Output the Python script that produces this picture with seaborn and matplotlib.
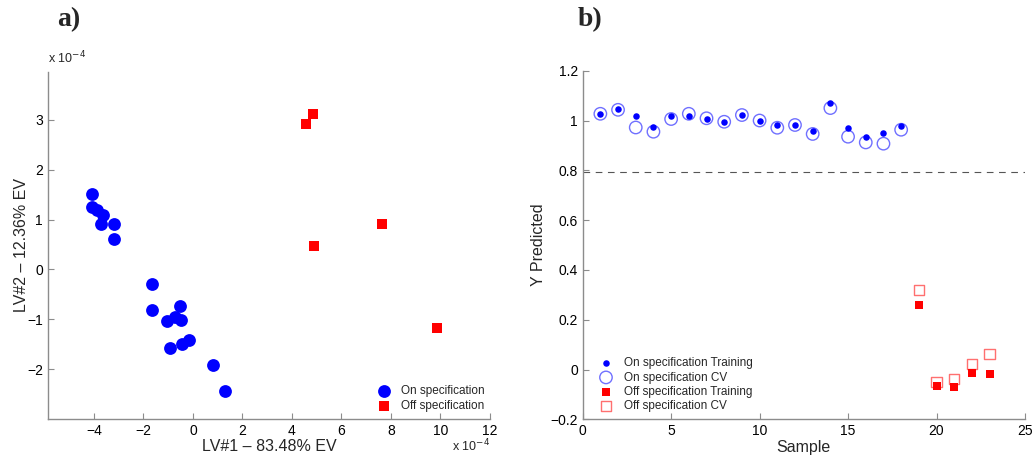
import numpy as np
import pandas as pd
import matplotlib
matplotlib.use('Agg')
import matplotlib.pyplot as plt
import seaborn as sns

# panel a: scores, in units of 1e-4
lv1_on = [-4.10, -4.08, -3.87, -3.64, -3.70, -3.21, -3.21, -1.66, -1.66, -1.06,
          -0.74, -0.54, -0.47, -0.16, -0.46, -0.92, 0.79, 1.29]
lv2_on = [1.52, 1.25, 1.20, 1.10, 0.92, 0.92, 0.60, -0.29, -0.81, -1.03,
          -0.95, -0.74, -1.02, -1.41, -1.50, -1.57, -1.91, -2.44]
lv1_off = [4.58, 4.85, 7.65, 4.88, 9.85]
lv2_off = [2.91, 3.11, 0.92, 0.47, -1.18]

# panel b: predictions per sample
samples_on = list(range(1, 19))
samples_off = list(range(19, 24))
on_train = [1.027, 1.046, 1.017, 0.974, 1.017, 1.019, 1.007, 0.993, 1.021, 0.999,
            0.982, 0.982, 0.959, 1.070, 0.968, 0.932, 0.948, 0.979]
on_cv = [1.027, 1.043, 0.972, 0.955, 1.006, 1.027, 1.009, 0.995, 1.022, 1.000,
         0.971, 0.982, 0.946, 1.050, 0.935, 0.912, 0.907, 0.963]
off_train = [0.258, -0.065, -0.070, -0.014, -0.018]
off_cv = [0.320, -0.049, -0.037, 0.021, 0.062]
threshold = 0.792

sns.set_style('white')
plt.rcParams['font.family'] = ['Liberation Sans', 'DejaVu Sans']

spine_col = '#8c8c8c'
blue = '#0000ff'
red = '#ff0000'


def matlab_axes(ax):
    for side in ['top', 'right']:
        ax.spines[side].set_visible(False)
    for side in ['left', 'bottom']:
        ax.spines[side].set_color(spine_col)
        ax.spines[side].set_linewidth(1.0)
    ax.tick_params(direction='in', length=4, width=0.8, color=spine_col,
                   labelsize=10, labelcolor='black', left=True, bottom=True)


fig = plt.figure(figsize=(10.34, 4.61), dpi=100)
ax_a = fig.add_axes([0.0464, 0.091, 0.4274, 0.753])
ax_b = fig.add_axes([0.5635, 0.0904, 0.4278, 0.7562])

# ---- panel a
df_a = pd.DataFrame({
    'lv1': lv1_on + lv1_off,
    'lv2': lv2_on + lv2_off,
    'group': ['On specification'] * len(lv1_on) + ['Off specification'] * len(lv1_off),
})
sns.scatterplot(data=df_a[df_a.group == 'On specification'], x='lv1', y='lv2',
                color=blue, marker='o', s=85, linewidth=0, ax=ax_a,
                label='On specification')
sns.scatterplot(data=df_a[df_a.group == 'Off specification'], x='lv1', y='lv2',
                color=red, marker='s', s=45, linewidth=0, ax=ax_a,
                label='Off specification')
ax_a.set_xlim(-5.86, 12)
ax_a.set_ylim(-3.0, 3.96)
ax_a.set_xticks([-4, -2, 0, 2, 4, 6, 8, 10, 12])
ax_a.set_yticks([-2, -1, 0, 1, 2, 3])
ax_a.set_yticklabels(['\u22122', '\u22121', '0', '1', '2', '3'])
ax_a.set_xticklabels(['\u22124', '\u22122', '0', '2', '4', '6', '8', '10', '12'])
ax_a.set_xlabel('LV#1 \u2013 83.48% EV', fontsize=11.5, labelpad=1)
ax_a.set_ylabel('LV#2 \u2013 12.36% EV', fontsize=11.5, labelpad=-1)
matlab_axes(ax_a)
ax_a.text(0.0, 1.015, 'x 10$^{-4}$', transform=ax_a.transAxes, fontsize=9, ha='left', va='bottom')
ax_a.text(1.0, -0.055, 'x 10$^{-4}$', transform=ax_a.transAxes, fontsize=9, ha='right', va='top')
ax_a.legend(loc='lower right', frameon=False, fontsize=8.5, handletextpad=0.5,
            borderaxespad=0.2, labelspacing=0.25, bbox_to_anchor=(1.005, 0.0))

# ---- panel b
sns.scatterplot(x=samples_on, y=on_train, color=blue, marker='o', s=22, linewidth=0,
                ax=ax_b, label='On specification Training', zorder=3)
sns.scatterplot(x=samples_on, y=on_cv, facecolor='none', edgecolor='#7070ff', marker='o',
                s=80, linewidth=1.0, ax=ax_b, label='On specification CV', zorder=2)
sns.scatterplot(x=samples_off, y=off_train, color=red, marker='s', s=35, linewidth=0,
                ax=ax_b, label='Off specification Training', zorder=3)
sns.scatterplot(x=samples_off, y=off_cv, facecolor='none', edgecolor='#ff7070', marker='s',
                s=55, linewidth=1.0, ax=ax_b, label='Off specification CV', zorder=2)
ax_b.axhline(threshold, color='#555555', linestyle=(0, (6, 5)), linewidth=0.8)
ax_b.set_xlim(0, 25)
ax_b.set_ylim(-0.2, 1.2)
ax_b.set_xticks([0, 5, 10, 15, 20, 25])
ax_b.set_yticks([-0.2, 0, 0.2, 0.4, 0.6, 0.8, 1.0, 1.2])
ax_b.set_yticklabels(['\u22120.2', '0', '0.2', '0.4', '0.6', '0.8', '1', '1.2'])
ax_b.set_xlabel('Sample', fontsize=11.5, labelpad=1)
ax_b.set_ylabel('Y Predicted', fontsize=11.5, labelpad=3)
matlab_axes(ax_b)
ax_b.legend(loc='lower left', frameon=False, fontsize=8.5, handletextpad=0.5,
            borderaxespad=0.2, labelspacing=0.2, bbox_to_anchor=(0.01, 0.0))

fig.text(57 / 1034, 1 - 20 / 461, 'a)', fontsize=20, fontweight='bold',
         family='Liberation Serif', ha='left', va='center')
fig.text(578 / 1034, 1 - 20 / 461, 'b)', fontsize=20, fontweight='bold',
         family='Liberation Serif', ha='left', va='center')

fig.savefig('out.png', dpi=100)
